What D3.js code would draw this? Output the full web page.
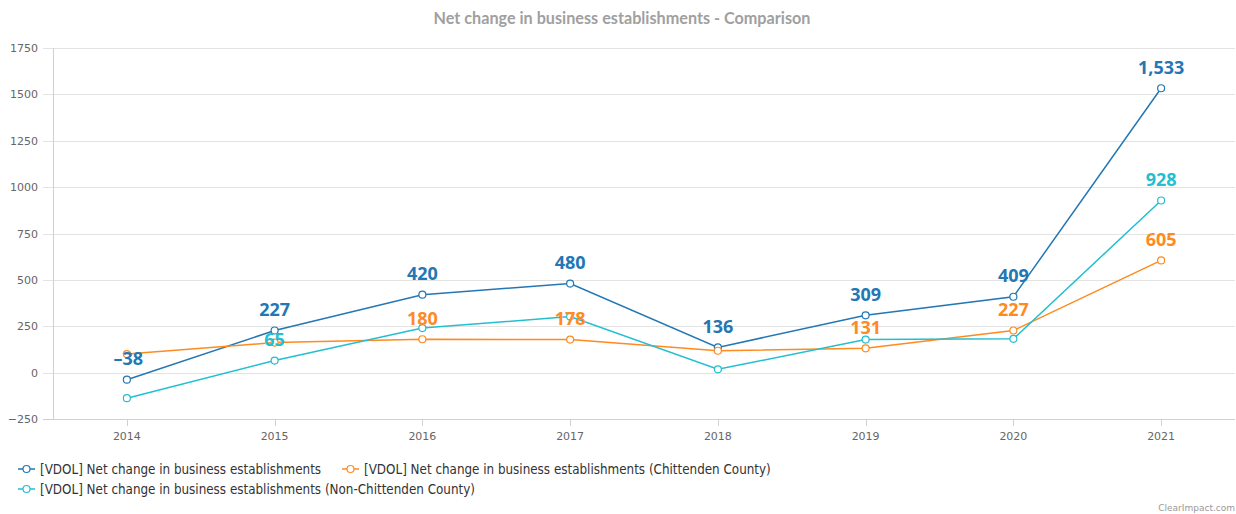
<!DOCTYPE html>
<html>
<head>
<meta charset="utf-8">
<script src="https://cdnjs.cloudflare.com/ajax/libs/d3/7.8.5/d3.min.js"></script>
<style>
    body { margin: 0; background: #fff; }
    .chart text { font-family: "DejaVu Sans", sans-serif; }
    .axis text { fill: #666; font-size: 11px; }
    .legend text { fill: #333; font-family: "DejaVu Sans Condensed", "DejaVu Sans", sans-serif; font-size: 13.3px; }
    .label { font-family: "Open Sans", sans-serif !important; font-weight: 700; font-size: 18px; }
</style>
</head>
<body>
<svg class="chart"></svg>
<script>
// Data
var years = ["2014", "2015", "2016", "2017", "2018", "2019", "2020", "2021"];
var total = [-38, 227, 420, 480, 136, 309, 409, 1533];
var chittenden = [100, 162, 180, 178, 118, 131, 227, 605];
var nonChittenden = [-138, 65, 240, 302, 18, 178, 182, 928];
var yTicks = [-250, 0, 250, 500, 750, 1000, 1250, 1500, 1750];

var seriesNames = [
    "[VDOL] Net change in business establishments",
    "[VDOL] Net change in business establishments (Chittenden County)",
    "[VDOL] Net change in business establishments (Non-Chittenden County)"
];
var colors = ["#2277b4", "#ff8a1f", "#22bfd0"];

var series = [total, chittenden, nonChittenden].map(function (vals, i) {
    return { name: seriesNames[i], color: colors[i], values: vals };
});

// Margins
var W = 1236, H = 514;
var margin = { top: 48, right: 1, bottom: 95, left: 53 },
    width = W - margin.left - margin.right,
    height = H - margin.top - margin.bottom;

var svg = d3.select(".chart")
    .attr("width", W)
    .attr("height", H);

var chart = svg.append("g")
    .attr("transform", "translate(" + margin.left + "," + margin.top + ")");

var x = d3.scalePoint().domain(years).range([0, width]).padding(0.5);
var y = d3.scaleLinear().domain([-250, 1750]).range([height, 0]);

// Title
svg.append("text")
    .attr("x", 622)
    .attr("y", 24)
    .attr("text-anchor", "middle")
    .style("font-family", "Lato, sans-serif")
    .style("font-weight", "700")
    .style("font-size", "16.2px")
    .style("fill", "#a0a0a0")
    .text("Net change in business establishments - Comparison");

// Grid lines + y labels
var yAxis = chart.append("g").attr("class", "axis y");
yAxis.selectAll("line")
    .data(yTicks)
    .enter().append("line")
    .attr("x1", -10)
    .attr("x2", width)
    .attr("y1", function (d) { return Math.round(y(d)) + 0.5; })
    .attr("y2", function (d) { return Math.round(y(d)) + 0.5; })
    .attr("stroke", function (d) { return d === -250 ? "#d0d0d0" : "#e3e3e3"; })
    .attr("stroke-width", 1);
yAxis.selectAll("text")
    .data(yTicks)
    .enter().append("text")
    .attr("x", -15)
    .attr("y", function (d) { return y(d) + 4; })
    .attr("text-anchor", "end")
    .text(function (d) { return d < 0 ? "\u2212" + Math.abs(d) : d; });

// y axis line
chart.append("line")
    .attr("x1", 0.5).attr("x2", 0.5)
    .attr("y1", 0).attr("y2", height)
    .attr("stroke", "#d0d0d0");

// x axis ticks + labels
var xAxis = chart.append("g").attr("class", "axis x")
    .attr("transform", "translate(0," + height + ")");
xAxis.selectAll("line")
    .data(years)
    .enter().append("line")
    .attr("x1", function (d) { return Math.round(x(d)) + 0.5; })
    .attr("x2", function (d) { return Math.round(x(d)) + 0.5; })
    .attr("y1", 0).attr("y2", 7)
    .attr("stroke", "#d0d0d0");
xAxis.selectAll("text")
    .data(years)
    .enter().append("text")
    .attr("x", function (d) { return x(d); })
    .attr("y", 21)
    .attr("text-anchor", "middle")
    .text(function (d) { return d; });

// Lines
var line = d3.line()
    .x(function (d, i) { return x(years[i]); })
    .y(function (d) { return y(d); });

series.forEach(function (s) {
    chart.append("path")
        .datum(s.values)
        .attr("fill", "none")
        .attr("stroke", s.color)
        .attr("stroke-width", 1.5)
        .attr("d", line);
});

series.forEach(function (s) {
    chart.selectAll(null)
        .data(s.values)
        .enter().append("circle")
        .attr("cx", function (d, i) { return x(years[i]); })
        .attr("cy", function (d) { return y(d); })
        .attr("r", 3.5)
        .attr("fill", "#fff")
        .attr("stroke", s.color)
        .attr("stroke-width", 1.2);
});

// Data labels, hide the ones overlapping labels already placed
var fmt = d3.format(",");
var placed = [];
series.forEach(function (s) {
    s.values.forEach(function (v, i) {
        var cx = x(years[i]), cy = y(v) - 14.5;
        var hit = placed.some(function (p) {
            return Math.abs(p.x - cx) < 40 && Math.abs(p.y - cy) < 28;
        });
        if (hit) return;
        placed.push({ x: cx, y: cy });
        chart.append("text")
            .attr("class", "label")
            .attr("x", v < 0 ? cx + 1.5 : cx)
            .attr("y", cy)
            .attr("text-anchor", "middle")
            .attr("fill", s.color)
            .text(v < 0 ? "\u2013" + Math.abs(v) : fmt(v));
    });
});

// Legend
var legendPos = [[18, 469], [342, 469], [18, 489]];
var legend = svg.append("g").attr("class", "legend");
series.forEach(function (s, i) {
    var g = legend.append("g")
        .attr("transform", "translate(" + legendPos[i][0] + "," + legendPos[i][1] + ")");
    g.append("line")
        .attr("x1", 0).attr("x2", 17)
        .attr("stroke", s.color).attr("stroke-width", 1.5);
    g.append("circle")
        .attr("cx", 8.5).attr("r", 3.5)
        .attr("fill", "#fff").attr("stroke", s.color).attr("stroke-width", 1.2);
    g.append("text")
        .attr("x", 22)
        .attr("y", 4.5)
        .text(s.name);
});

// Credit
svg.append("text")
    .attr("x", 1235)
    .attr("y", 511)
    .attr("text-anchor", "end")
    .style("font-size", "9px")
    .style("fill", "#999")
    .text("ClearImpact.com");
</script>
</body>
</html>
